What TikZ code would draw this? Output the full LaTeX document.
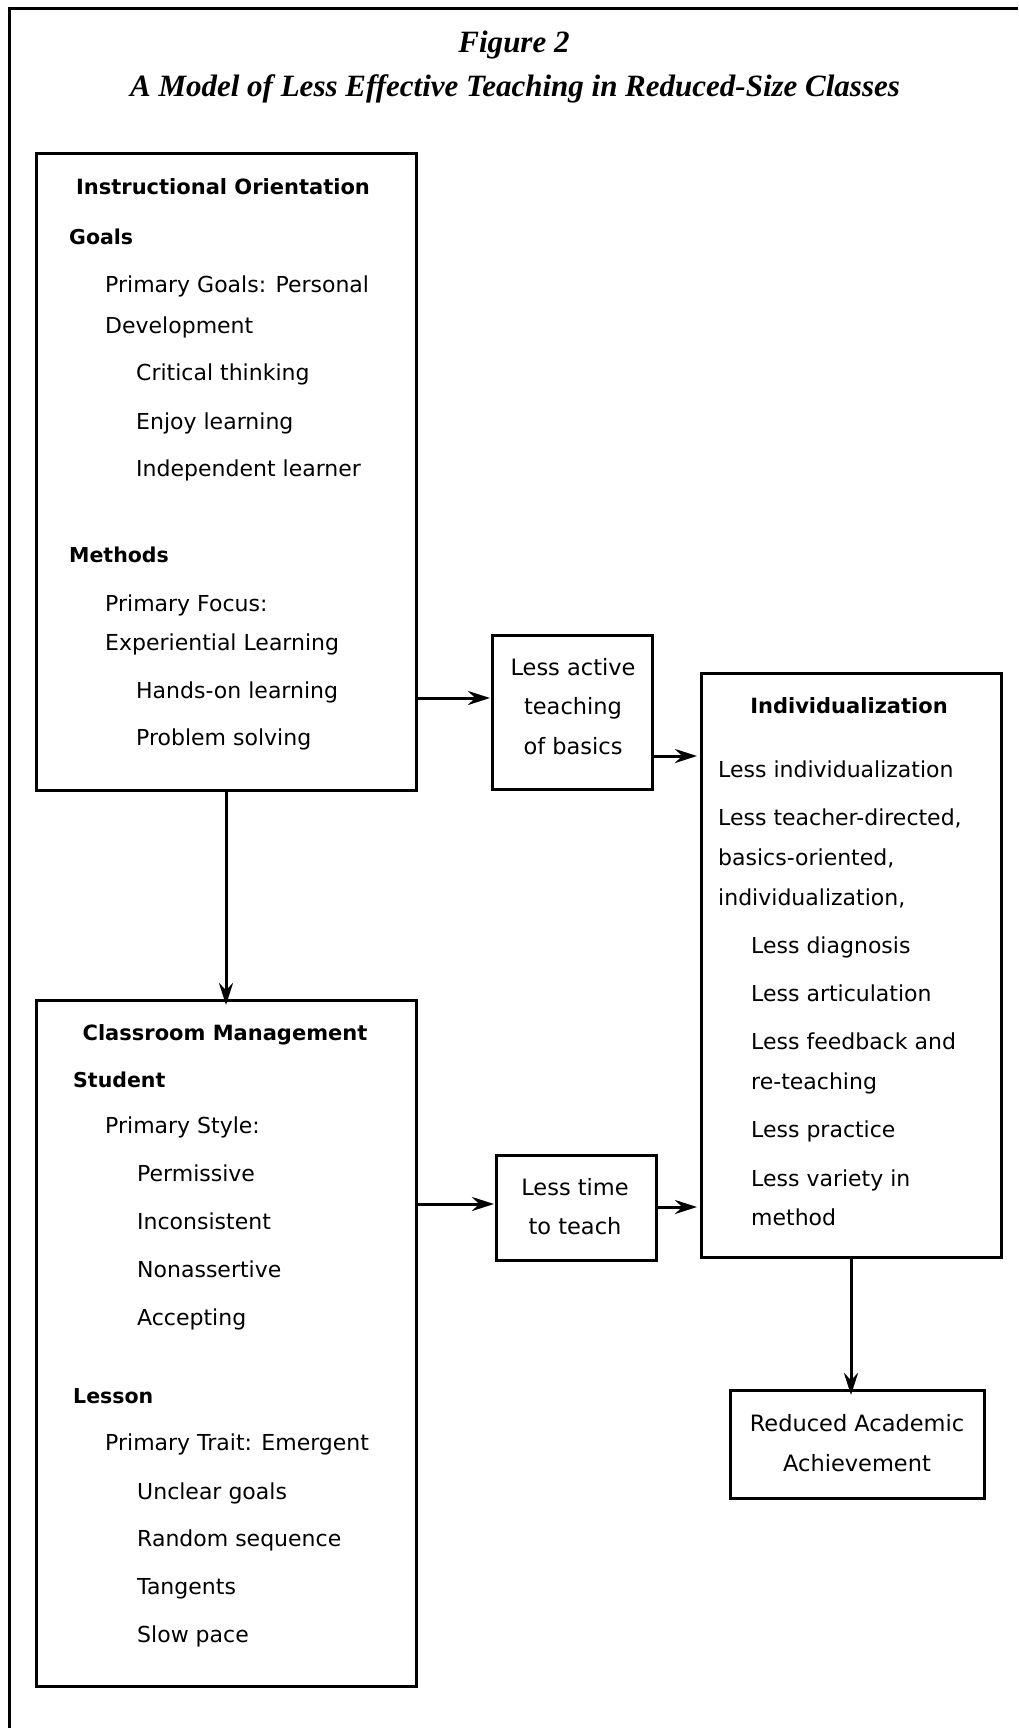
\documentclass[tikz,border=0pt]{standalone}
\usepackage{fontspec}
\setmainfont{DejaVu Sans}
\newfontfamily\titlefont{Liberation Serif}
\usetikzlibrary{arrows.meta}
\begin{document}
\begin{tikzpicture}[x=1pt,y=-1pt,
  box/.style={draw, line width=3pt, inner sep=0pt, outer sep=0pt},
  txt/.style={anchor=base west, inner sep=0pt, font=\fontsize{22}{26}\selectfont},
  ctxt/.style={anchor=base, inner sep=0pt, font=\fontsize{22.5}{26}\selectfont},
  head/.style={anchor=base, inner sep=0pt, font=\bfseries\fontsize{21}{25}\selectfont},
  subhead/.style={anchor=base west, inner sep=0pt, font=\bfseries\fontsize{20.5}{24}\selectfont},
  ttl/.style={anchor=base, inner sep=0pt, font=\titlefont\bfseries\itshape\fontsize{31}{35}\selectfont},
  arr/.style={line width=3pt, -{Stealth[length=22pt,width=14pt]}},
  frame/.style={line width=3pt}
]
\useasboundingbox (0,0) rectangle (1018,1728);
% outer frame (top and left visible)
\coordinate (fTL) at (9,9);
\coordinate (fTR) at (1018,9);
\coordinate (fBL) at (9,1728);
\draw[frame] (fBL) -- (fTL) -- (fTR);

% title
\node[ttl] (title1) at (514,53) {Figure 2};
\node[ttl] (title2) at (515,97) {A Model of Less Effective Teaching in Reduced-Size Classes};

% boxes
\node[box, minimum width=380, minimum height=636] (io) at (226,472) {};
\node[box, minimum width=160, minimum height=154] (lat) at (572,712) {};
\node[box, minimum width=300, minimum height=584] (ind) at (851,965) {};
\node[box, minimum width=380, minimum height=686] (cm) at (226,1343) {};
\node[box, minimum width=160, minimum height=105] (ltt) at (576,1207.5) {};
\node[box, minimum width=254, minimum height=108] (raa) at (857,1444) {};

% Instructional Orientation
\node[head] (ioh) at (223,195) {Instructional Orientation};
\node[subhead] (iog) at (69,245) {Goals};
\node[txt] (io1) at (105,292) {Primary Goals: Personal};
\node[txt] (io2) at (105,333) {Development};
\node[txt] (io3) at (136,380) {Critical thinking};
\node[txt] (io4) at (136,429) {Enjoy learning};
\node[txt] (io5) at (136,476) {Independent learner};
\node[subhead] (iom) at (69,562) {Methods};
\node[txt] (io6) at (105,611) {Primary Focus:};
\node[txt] (io7) at (105,650) {Experiential Learning};
\node[txt] (io8) at (136,698) {Hands-on learning};
\node[txt] (io9) at (136,745) {Problem solving};

% Less active teaching of basics
\node[ctxt] (lat1) at (573,675) {Less active};
\node[ctxt] (lat2) at (573,714) {teaching};
\node[ctxt] (lat3) at (573,754) {of basics};

% Individualization
\node[head] (indh) at (849,713) {Individualization};
\node[txt] (in1) at (718,777) {Less individualization};
\node[txt] (in2) at (718,825) {Less teacher-directed,};
\node[txt] (in3) at (718,865) {basics-oriented,};
\node[txt] (in4) at (718,905) {individualization,};
\node[txt] (in5) at (751,953) {Less diagnosis};
\node[txt] (in6) at (751,1001) {Less articulation};
\node[txt] (in7) at (751,1049) {Less feedback and};
\node[txt] (in8) at (751,1089) {re-teaching};
\node[txt] (in9) at (751,1137) {Less practice};
\node[txt] (in10) at (751,1186) {Less variety in};
\node[txt] (in11) at (751,1225) {method};

% Classroom Management
\node[head] (cmh) at (225,1040) {Classroom Management};
\node[subhead] (cms) at (73,1087) {Student};
\node[txt] (cm1) at (105,1133) {Primary Style:};
\node[txt] (cm2) at (137,1181) {Permissive};
\node[txt] (cm3) at (137,1229) {Inconsistent};
\node[txt] (cm4) at (137,1277) {Nonassertive};
\node[txt] (cm5) at (137,1325) {Accepting};
\node[subhead] (cml) at (73,1403) {Lesson};
\node[txt] (cm6) at (105,1450) {Primary Trait: Emergent};
\node[txt] (cm7) at (137,1499) {Unclear goals};
\node[txt] (cm8) at (137,1546) {Random sequence};
\node[txt] (cm9) at (137,1594) {Tangents};
\node[txt] (cm10) at (137,1642) {Slow pace};

% Less time to teach
\node[ctxt] (ltt1) at (575,1195) {Less time};
\node[ctxt] (ltt2) at (575,1234) {to teach};

% Reduced Academic Achievement
\node[ctxt] (raa1) at (857,1431) {Reduced Academic};
\node[ctxt] (raa2) at (857,1471) {Achievement};

% connectors
\draw[arr] (io.east |- 0,698) -- ([xshift=-2pt]lat.west |- 0,698);
\draw[arr] (lat.east |- 0,756) -- ([xshift=-4pt]ind.west |- 0,756);
\draw[arr] (io.south) -- ([yshift=-5pt]cm.north);
\draw[arr] (cm.east |- 0,1204) -- ([xshift=-2pt]ltt.west |- 0,1204);
\draw[arr] (ltt.east |- 0,1207) -- ([xshift=-4pt]ind.west |- 0,1207);
\draw[arr] (ind.south) -- ([yshift=-5pt]ind.south |- raa.north);
\end{tikzpicture}
\end{document}
